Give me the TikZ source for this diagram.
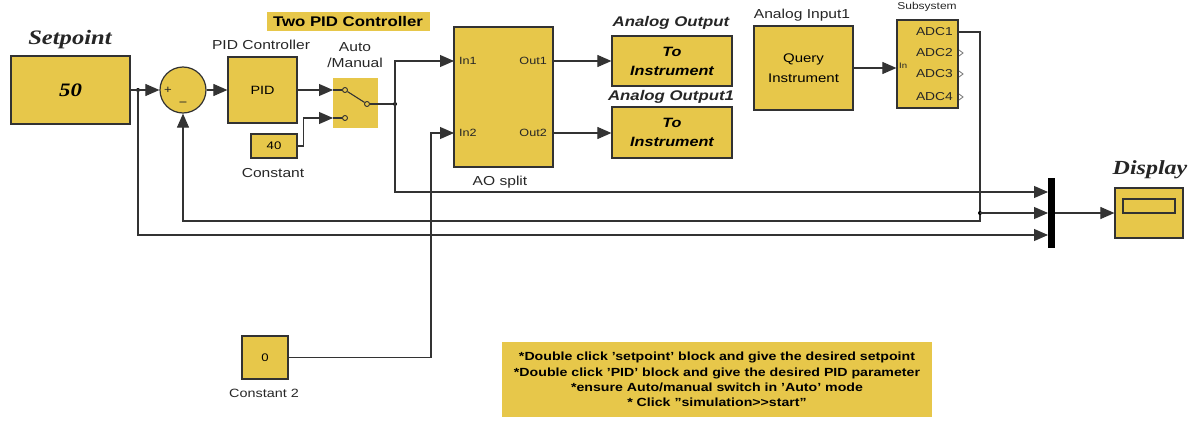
\documentclass[tikz,border=0pt]{standalone}
\usepackage{fontspec}
\setmainfont{Liberation Sans}[FakeStretch=1.2]
\newfontfamily\serifbi{Liberation Serif}[FakeStretch=1.2]
\usetikzlibrary{arrows.meta,calc}
\definecolor{simy}{RGB}{231,199,74}
\definecolor{edge}{RGB}{50,50,50}
\begin{document}
\begin{tikzpicture}[x=1pt,y=-1pt,
  blk/.style={draw=edge, fill=simy, line width=1.2pt, inner sep=0pt, rectangle},
  lbl/.style={inner sep=0pt, text=black!85},
  wire/.style={draw=black!80, line width=1.1pt},
  arr/.style={wire, -{Triangle[length=14pt,width=12pt]}},
  dot/.style={circle, fill=black, inner sep=0pt, minimum size=4pt},
  port/.style={circle, draw=edge, fill=simy, minimum size=5pt, inner sep=0pt, line width=0.9pt}]
\useasboundingbox (0,0) rectangle (1190,420);
\clip (0,0) rectangle (1190,420);

% title
\node[fill=simy, minimum width=163pt, minimum height=19pt, inner sep=0pt] (title) at (348,21.5) {\bfseries\fontsize{14}{14}\selectfont Two PID Controller};

% setpoint
\node[blk, minimum width=119pt, minimum height=68pt] (sp) at (70.5,90) {\serifbi\bfseries\itshape\fontsize{19}{19}\selectfont 50};
\node[lbl] (splbl) at (70,40) {\serifbi\bfseries\itshape\fontsize{20.5}{20}\selectfont Setpoint};

% sum
\node[blk, circle, minimum size=46pt] (sum) at (183,90) {};
\node[lbl] (plus) at (168,90) {\fontsize{11}{11}\selectfont +};
\node[lbl] (minus) at (183,104) {\fontsize{12}{12}\selectfont −};

% PID
\node[blk, minimum width=69pt, minimum height=66pt] (pid) at (262.5,90) {\fontsize{12}{12}\selectfont PID};
\node[lbl] (pidlbl) at (261,45) {\fontsize{13}{13}\selectfont PID Controller};

% switch
\node[fill=simy, minimum width=45pt, minimum height=50pt, inner sep=0pt] (sw) at (355.5,103) {};
\node[lbl, align=center, font=\fontsize{13}{16}\selectfont] (swlbl) at (355,55) {Auto\\/Manual};
\node[port] (swa) at (345,90) {};
\node[port] (swb) at (345,118) {};
\node[port] (swo) at (367,104) {};
\draw[wire] (swa) -- (swo);

% constant 40
\node[blk, minimum width=46pt, minimum height=24pt] (c40) at (274,146) {\fontsize{11}{11}\selectfont 40};
\node[lbl] (c40lbl) at (273,173) {\fontsize{13}{13}\selectfont Constant};

% AO split
\node[blk, minimum width=99pt, minimum height=140pt] (aos) at (503.5,97) {};
\node[lbl, anchor=west] (in1) at (459,61) {\fontsize{10.5}{10}\selectfont In1};
\node[lbl, anchor=west] (in2) at (459,133) {\fontsize{10.5}{10}\selectfont In2};
\node[lbl, anchor=east] (out1) at (547,61) {\fontsize{10.5}{10}\selectfont Out1};
\node[lbl, anchor=east] (out2) at (547,133) {\fontsize{10.5}{10}\selectfont Out2};
\node[lbl] (aoslbl) at (500,182) {\fontsize{13}{13}\selectfont AO split};

% analog outputs
\node[blk, minimum width=120pt, minimum height=50pt, align=center, font=\bfseries\itshape\fontsize{13.5}{19}\selectfont] (ao1) at (672,61) {To\\Instrument};
\node[lbl] (ao1lbl) at (671,23) {\bfseries\itshape\fontsize{14}{14}\selectfont Analog Output};
\node[blk, minimum width=120pt, minimum height=51pt, align=center, font=\bfseries\itshape\fontsize{13.5}{19}\selectfont] (ao2) at (672,132.5) {To\\Instrument};
\node[lbl] (ao2lbl) at (671,97) {\bfseries\itshape\fontsize{14}{14}\selectfont Analog Output1};

% query instrument
\node[blk, minimum width=99pt, minimum height=84pt, align=center, font=\fontsize{12.5}{20}\selectfont] (qi) at (803.5,68) {Query\\Instrument};
\node[lbl] (qilbl) at (802,15) {\fontsize{13}{13}\selectfont Analog Input1};

% subsystem
\node[blk, minimum width=61pt, minimum height=88pt] (sub) at (927.5,64) {};
\node[lbl] (sublbl) at (927,7) {\fontsize{10}{10}\selectfont Subsystem};
\node[lbl, anchor=west] (inp) at (899,66) {\fontsize{8}{8}\selectfont In};
\node[lbl, anchor=east] (adc1l) at (953,32) {\fontsize{11.5}{11}\selectfont ADC1};
\node[lbl, anchor=east] (adc2l) at (953,53) {\fontsize{11.5}{11}\selectfont ADC2};
\node[lbl, anchor=east] (adc3l) at (953,74) {\fontsize{11.5}{11}\selectfont ADC3};
\node[lbl, anchor=east] (adc4l) at (953,97) {\fontsize{11.5}{11}\selectfont ADC4};
\foreach \yy in {53,74,97}{\draw[black!55, line width=0.8pt] (959,\yy-3) -- (963,\yy) -- (959,\yy+3);}

% mux and display
\node[fill=black, minimum width=7pt, minimum height=70pt, inner sep=0pt] (mux) at (1051.5,213) {};
\node[blk, minimum width=68pt, minimum height=50pt] (disp) at (1149,213) {};
\node[draw=edge, fill=simy, line width=1.2pt, minimum width=52pt, minimum height=14pt, inner sep=0pt] (screen) at (1149,206) {};
\node[lbl] (displbl) at (1150,170) {\serifbi\bfseries\itshape\fontsize{20}{20}\selectfont Display};

% constant 2
\node[blk, minimum width=46pt, minimum height=43pt] (c0) at (265,357.5) {\fontsize{11}{11}\selectfont 0};
\node[lbl] (c0lbl) at (264,393) {\fontsize{12}{12}\selectfont Constant 2};

% note
\node[fill=simy, minimum width=430pt, minimum height=75pt, align=center, inner sep=0pt, font=\bfseries\fontsize{11.8}{15.3}\selectfont] (note) at (717,379.5) {*Double click 'setpoint' block and give the desired setpoint\\*Double click 'PID' block and give the desired PID parameter\\*ensure Auto/manual switch in 'Auto' mode\\* Click "simulation>{}>start"};

% coordinates
\coordinate (m1) at (1048,192);
\coordinate (m2) at (1048,213);
\coordinate (m3) at (1048,235);
\coordinate (ain1) at (454,61);
\coordinate (ain2) at (454,133);
\coordinate (aout1) at (553,61);
\coordinate (aout2) at (553,133);
\coordinate (adc1) at (958,32);
\coordinate (fb) at (980,221);
\coordinate (c2up) at (431,133);
\coordinate (swi1) at (333,90);
\coordinate (swi2) at (333,118);

% wires
\node[dot] (d1) at (138,90) {};
\draw[arr] (sp.east) -- (sum.west);
\draw[arr] (d1.center) |- (m3);
\draw[arr] (sum.east) -- (pid.west);
\draw[arr] (pid.east) -- (swi1);
\draw[wire] (swi1) -- (swa);
\draw[arr] (c40.east) -- ++(6,0) |- (swi2);
\draw[wire] (swi2) -- (swb);
\node[dot] (d2) at (395,104) {};
\draw[wire] (swo) -- (d2);
\draw[arr] (d2.center) |- (ain1);
\draw[arr] (d2.center) |- (m1);
\draw[arr] (aout1) -- (ao1.west |- aout1);
\draw[arr] (aout2) -- (ao2.west |- aout2);
\draw[arr] (qi.east) -- (sub.west |- qi.east);
\draw[arr] (adc1) -| (fb) -| (sum.south);
\node[dot] (d3) at (980,213) {};
\draw[arr] (d3.center) -- (m2);
\draw[arr] (mux.east) -- (disp.west);
\draw[arr] (c0.east) -| (c2up) -- (ain2);
\end{tikzpicture}
\end{document}
